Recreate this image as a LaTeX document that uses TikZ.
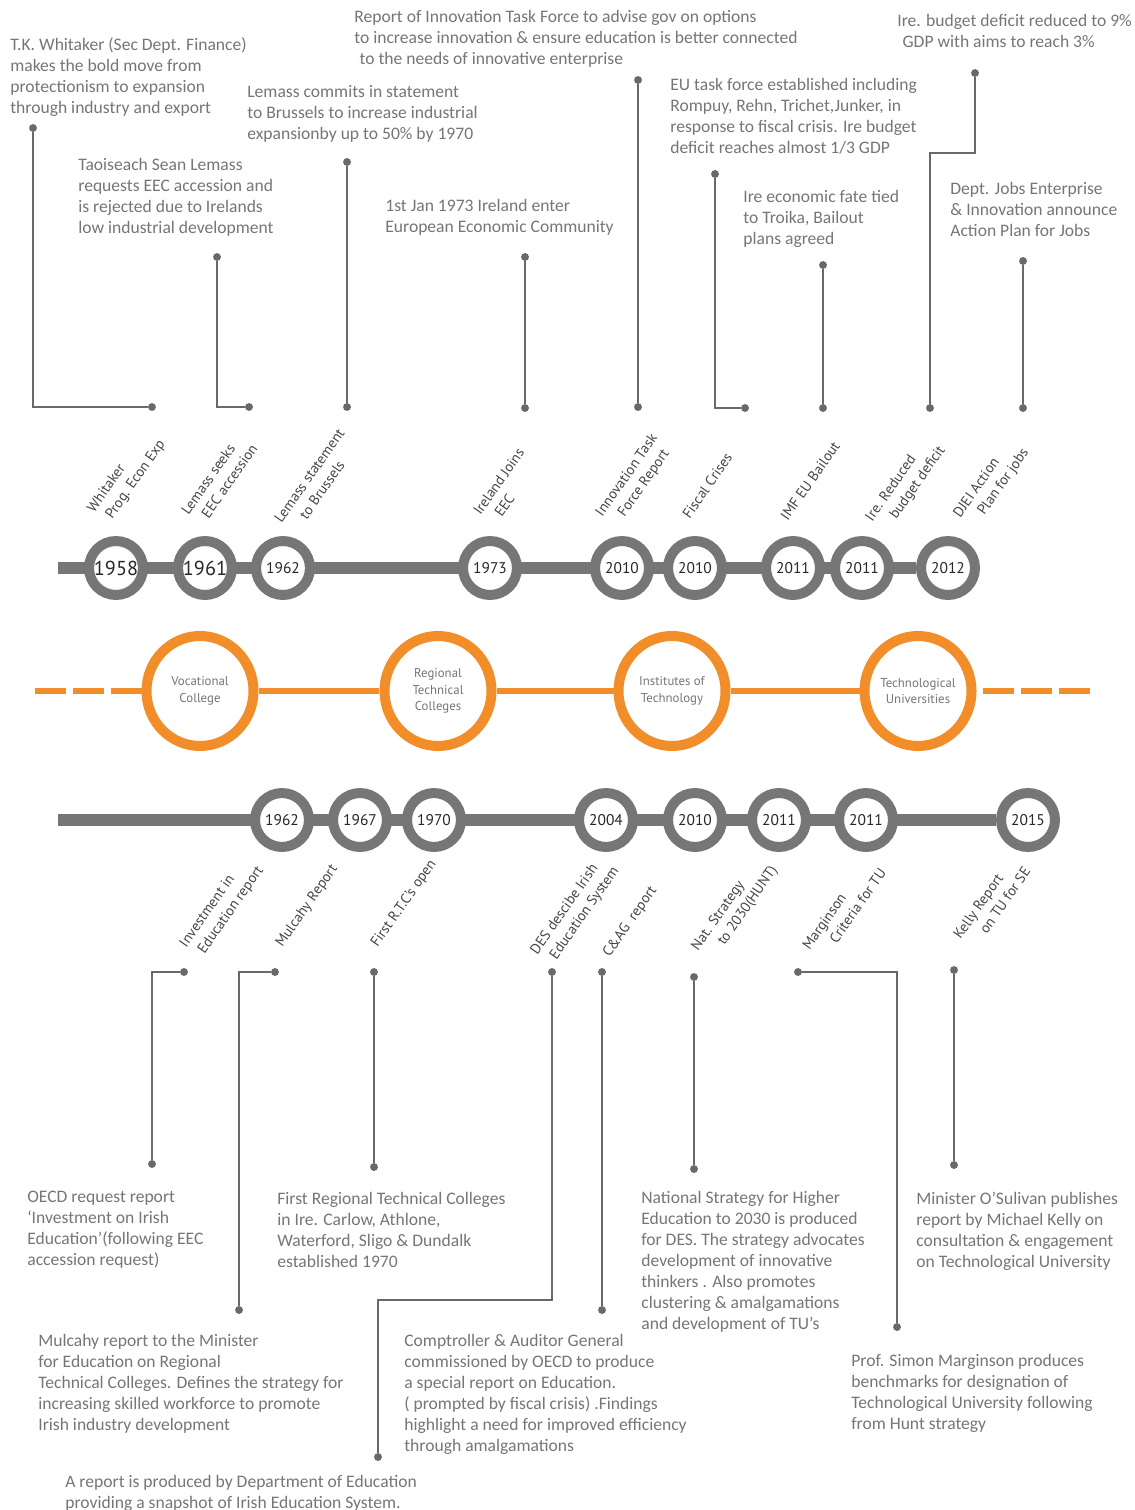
\documentclass[tikz,border=0pt]{standalone}
\usepackage{fontspec}
\setmainfont{Carlito}
\newfontfamily\labelfont{PT Sans}
\usetikzlibrary{shapes.geometric,backgrounds}

\definecolor{linegray}{RGB}{105,105,105}
\definecolor{bargray}{RGB}{118,118,118}
\definecolor{notegray}{RGB}{118,118,118}
\definecolor{taggray}{RGB}{70,70,70}
\definecolor{yeargray}{RGB}{40,40,40}
\definecolor{stageorange}{RGB}{242,142,42}

\begin{document}
\begin{tikzpicture}[x=0.02cm, y=-0.02cm,
    evnote/.style={anchor=north west, align=left, inner sep=0pt, text=notegray,
      font=\fontsize{10}{11.95}\selectfont},
    evtag/.style={rotate=55, anchor=south west, align=left, inner sep=0pt, text=taggray,
      font=\labelfont\fontsize{8.2}{10.5}\selectfont},
    yearring/.style={circle, draw=bargray, line width=5.7pt, fill=white, minimum size=30.7pt,
      inner sep=0pt, text=yeargray, font=\labelfont\fontsize{8.8}{10}\selectfont},
    bigyear/.style={yearring, font=\labelfont\fontsize{11.5}{12}\selectfont},
    stagering/.style={ellipse, draw=stageorange, line width=5.7pt, fill=white, minimum width=60.9pt,
      minimum height=62.6pt, inner sep=0pt, align=center, text=notegray,
      font=\labelfont\fontsize{7.3}{9.4}\selectfont},
    leaddot/.style={circle, fill=linegray, inner sep=0pt, minimum size=4.5pt},
    leadline/.style={draw=linegray, line width=1.4pt},
    timebar/.style={draw=bargray, line width=6.3pt},
    stagebar/.style={draw=stageorange, line width=3.4pt}]

  % page
  \useasboundingbox (0,0) rectangle (1135,1510);
  \begin{scope}[on background layer]
    \fill[white] (0,0) rectangle (1135,1510);
  \end{scope}

  % ---------------- economic timeline (top) ----------------
  \coordinate (tstart) at (58,568);
  \foreach \name/\x/\yr/\sty in {t1/116/1958/bigyear, t2/205/1961/bigyear, t3/283/1962/yearring,
      t4/490/1973/yearring, t5/622/2010/yearring, t6/695/2010/yearring, t7/793/2011/yearring,
      t8/862/2011/yearring, t9/948/2012/yearring} {
    \node[\sty] (\name) at (\x,568) {\yr};
  }
  \begin{scope}[on background layer]
    \draw[timebar] (tstart) -- (t9);
  \end{scope}

  % rotated labels above the years
  \foreach \x/\y/\txt [count=\i] in {
      112/526/{Whitaker\\\hspace*{3pt}Prog. Econ Exp},
      204/527/{Lemass seeks\\\hspace*{5pt}EEC accession},
      297/535/{Lemass statement\\\hspace*{10pt}to Brussels},
      496/527/{Ireland Joins\\\hspace*{6pt}EEC},
      620/530/{Innovation Task\\\hspace*{7pt}Force Report},
      690/520/{Fiscal Crises},
      788/522/{IMF EU Bailout},
      890/535/{Ire. Reduced\\\hspace*{9pt}budget deficit},
      978/531/{DJEI Action\\\hspace*{9pt}Plan for jobs}} {
    \node[evtag] (ttag\i) at (\x,\y) {\txt};
  }

  % notes above
  \node[evnote] (n1) at (10,37) {T.K. Whitaker (Sec Dept. Finance)\\makes the bold move from\\protectionism to expansion\\through industry and export};
  \node[evnote] (n2) at (78,158) {Taoiseach Sean Lemass\\requests EEC accession and\\is rejected due to Irelands\\low industrial development};
  \node[evnote] (n3) at (247,85) {Lemass commits in statement\\to Brussels to increase industrial\\expansionby up to 50\% by 1970};
  \node[evnote] (n4) at (385,199) {1st Jan 1973 Ireland enter\\European Economic Community};
  \node[evnote] (n5) at (354,10) {Report of Innovation Task Force to advise gov on options\\to increase innovation \& ensure education is better connected\\\hspace*{3pt}to the needs of innovative enterprise};
  \node[evnote] (n6) at (670,78) {EU task force established including\\Rompuy, Rehn, Trichet,Junker, in\\response to fiscal crisis. Ire budget\\deficit reaches almost 1/3 GDP};
  \node[evnote] (n7) at (743,190) {Ire economic fate tied\\to Troika, Bailout\\plans agreed};
  \node[evnote] (n8) at (897,14) {Ire. budget deficit reduced to 9\%\\\hspace*{3pt}GDP with aims to reach 3\%};
  \node[evnote] (n9) at (950,182) {Dept. Jobs Enterprise\\\& Innovation announce\\Action Plan for Jobs};

  % leaders above
  \node[leaddot] (w1) at (33,128) {};
  \node[leaddot] (w2) at (152,407) {};
  \draw[leadline] (w1) |- (w2);
  \node[leaddot] (l1) at (217,257) {};
  \node[leaddot] (l2) at (249,407) {};
  \draw[leadline] (l1) |- (l2);
  \node[leaddot] (e1) at (715,174) {};
  \node[leaddot] (e2) at (745,408) {};
  \draw[leadline] (e1) |- (e2);
  \node[leaddot] (r1) at (975,73) {};
  \node[leaddot] (r2) at (930,408) {};
  \draw[leadline] (r1) -- ++(0,80) -| (r2);
  \foreach \name/\x/\ya/\yb in {bs/347/162/407, je/525/257/408, it/638/80/407,
      tr/823/265/408, ap/1023/261/408} {
    \node[leaddot] (\name-top) at (\x,\ya) {};
    \node[leaddot] (\name-bot) at (\x,\yb) {};
    \draw[leadline] (\name-top) -- (\name-bot);
  }

  % ---------------- institutions (middle) ----------------
  \node[stagering] (s1) at (200,691) {Vocational\\College};
  \node[stagering] (s2) at (438,691) {Regional\\Technical\\Colleges};
  \node[stagering] (s3) at (672,691) {Institutes of\\Technology};
  \node[stagering] (s4) at (918,691) {Technological\\Universities};
  \coordinate (sl) at (35,691);
  \coordinate (sr) at (1090,691);
  \begin{scope}[on background layer]
    \draw[stagebar] (s1) -- (s2) -- (s3) -- (s4);
    \draw[stagebar, dash pattern=on 17.6pt off 4pt] (sl) -- (s1.center);
    \draw[stagebar, dash pattern=on 17.6pt off 4pt] (sr) -- (s4.center);
  \end{scope}

  % ---------------- education timeline (bottom) ----------------
  \coordinate (bstart) at (58,820);
  \foreach \name/\x/\yr in {b1/282/1962, b2/360/1967, b3/434/1970, b4/606/2004,
      b5/695/2010, b6/779/2011, b7/866/2011, b8/1028/2015} {
    \node[yearring] (\name) at (\x,820) {\yr};
  }
  \begin{scope}[on background layer]
    \draw[timebar] (bstart) -- (b8);
  \end{scope}

  % rotated labels below the years
  \foreach \x/\y/\txt [count=\i] in {
      204/961/{Investment in\\\hspace*{3pt}Education report},
      285/950/{Mulcahy Report},
      380/950/{First R.T.C’s open},
      555/968/{DES descibe Irish\\\hspace*{4pt}Education System},
      612/960/{C\&AG\ \ report},
      716/964/{Nat. Strategy\\\hspace*{11pt}to 2030(HUNT)},
      825/962/{Marginson\\\hspace*{12pt}Criteria for TU},
      976/951/{Kelly Report\\\hspace*{11pt}on TU for SE}} {
    \node[evtag] (btag\i) at (\x,\y) {\txt};
  }

  % notes below
  \node[evnote] (m1) at (27,1191) {OECD request report\\‘Investment on Irish\\Education’(following EEC\\accession request)};
  \node[evnote] (m2) at (38,1334) {Mulcahy report to the Minister\\for Education on Regional\\Technical Colleges. Defines the strategy for\\increasing skilled workforce to promote\\Irish industry development};
  \node[evnote] (m3) at (277,1192) {First Regional Technical Colleges\\in Ire. Carlow, Athlone,\\Waterford, Sligo \& Dundalk\\established 1970};
  \node[evnote] (m4) at (65,1475) {A report is produced by Department of Education\\providing a snapshot of Irish Education System.};
  \node[evnote] (m5) at (404,1334) {Comptroller \& Auditor General\\commissioned by OECD to produce\\a special report on Education.\\( prompted by fiscal crisis) .Findings\\highlight a need for improved efficiency\\through amalgamations};
  \node[evnote] (m6) at (641,1191) {National Strategy for Higher\\Education to 2030 is produced\\for DES. The strategy advocates\\development of innovative\\thinkers . Also promotes\\clustering \& amalgamations\\and development of TU’s};
  \node[evnote] (m7) at (851,1354) {Prof. Simon Marginson produces\\benchmarks for designation of\\Technological University following\\from Hunt strategy};
  \node[evnote] (m8) at (916,1192) {Minister O’Sulivan publishes\\report by Michael Kelly on\\consultation \& engagement\\on Technological University};

  % leaders below
  \node[leaddot] (o1) at (184,972) {};
  \node[leaddot] (o2) at (152,1164) {};
  \draw[leadline] (o1) -| (o2);
  \node[leaddot] (u1) at (275,972) {};
  \node[leaddot] (u2) at (239,1310) {};
  \draw[leadline] (u1) -| (u2);
  \node[leaddot] (d1) at (552,972) {};
  \node[leaddot] (d2) at (378,1457) {};
  \draw[leadline] (d1) -- ++(0,328) -| (d2);
  \node[leaddot] (g1) at (798,972) {};
  \node[leaddot] (g2) at (897,1327) {};
  \draw[leadline] (g1) -| (g2);
  \foreach \name/\x/\ya/\yb in {rt/374/972/1167, ca/602/972/1310, ns/694/977/1169,
      ke/954/970/1165} {
    \node[leaddot] (\name-top) at (\x,\ya) {};
    \node[leaddot] (\name-bot) at (\x,\yb) {};
    \draw[leadline] (\name-top) -- (\name-bot);
  }
\end{tikzpicture}
\end{document}
